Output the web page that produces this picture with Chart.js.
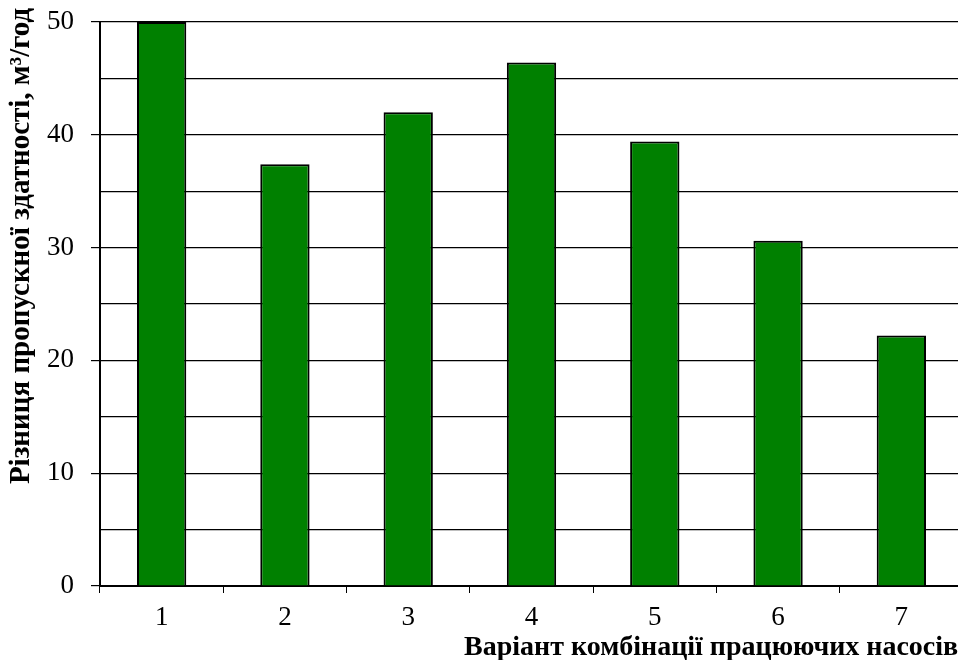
<!DOCTYPE html>
<html>
<head>
<meta charset="utf-8">
<script src="https://cdn.jsdelivr.net/npm/chart.js@4"></script>
<style>
  html, body { margin: 0; padding: 0; background: #fff; overflow: hidden; }
  #wrap { width: 958px; height: 660px; overflow: hidden; position: relative; }
  canvas { display: block; }
</style>
</head>
<body>
<div id="wrap"><canvas id="c" width="963" height="660"></canvas></div>
<script>
// Pump combination variants and the capacity difference for each
const categories = ['1', '2', '3', '4', '5', '6', '7'];
const capacityDiff = [50, 37.4, 42, 46.4, 39.4, 30.6, 22.2];
const yLabelValues = [0, 10, 20, 30, 40, 50];

const yTitle = 'Різниця пропускної здатності, м³/год';
const xTitle = 'Варіант комбінації працюючих насосів';

const serif = "'Liberation Serif', 'Times New Roman', serif";

// Axis titles drawn at fixed spots beside the plot
const axisTitles = {
  id: 'axisTitles',
  afterDraw(chart) {
    const ctx = chart.ctx;
    ctx.save();
    ctx.fillStyle = '#000';
    ctx.textBaseline = 'alphabetic';
    ctx.textAlign = 'left';
    ctx.font = 'bold 28px ' + serif;
    ctx.fillText(xTitle, 464, 655);
    ctx.font = 'bold 29px ' + serif;
    ctx.translate(29, 246);
    ctx.rotate(-Math.PI / 2);
    ctx.textAlign = 'center';
    ctx.fillText(yTitle, 0, 0);
    ctx.restore();
  }
};

new Chart(document.getElementById('c'), {
  type: 'bar',
  data: {
    labels: categories,
    datasets: [{
      data: capacityDiff,
      backgroundColor: '#008000',
      borderColor: '#000',
      borderWidth: 2,
      barPercentage: 0.4,
      categoryPercentage: 1.0
    }]
  },
  options: {
    responsive: false,
    animation: false,
    events: [],
    layout: { padding: { top: 22, left: 0, right: 0, bottom: 0 } },
    plugins: { legend: { display: false }, tooltip: { enabled: false } },
    scales: {
      x: {
        offset: true,
        grid: {
          offset: true,
          drawOnChartArea: false,
          drawTicks: true,
          tickLength: 7,
          color: '#000',
          lineWidth: 1
        },
        border: { display: true, color: '#000', width: 2 },
        ticks: {
          color: '#000',
          padding: 9,
          font: { family: serif, size: 27 }
        },
        afterFit(scale) { scale.height = 74; }
      },
      y: {
        min: 0,
        max: 50,
        afterBuildTicks(scale) {
          // grid every 5, labelled every 10
          const t = [];
          for (let v = 0; v <= 50; v += 5) t.push({ value: v });
          scale.ticks = t;
        },
        grid: {
          color: '#000',
          lineWidth: 1.2,
          drawTicks: true,
          tickLength: 9,
          tickColor: (c) => (c.tick && yLabelValues.includes(c.tick.value)) ? '#000' : 'rgba(0,0,0,0)'
        },
        border: { display: true, color: '#000', width: 2 },
        ticks: {
          autoSkip: false,
          color: '#000',
          padding: 17,
          font: { family: serif, size: 27 },
          callback: (v) => yLabelValues.includes(v) ? String(v) : ''
        },
        afterFit(scale) {
          scale.width = 100;
          scale.paddingTop = 0;
          scale.paddingBottom = 0;
        }
      }
    }
  },
  plugins: [axisTitles]
});
</script>
</body>
</html>
